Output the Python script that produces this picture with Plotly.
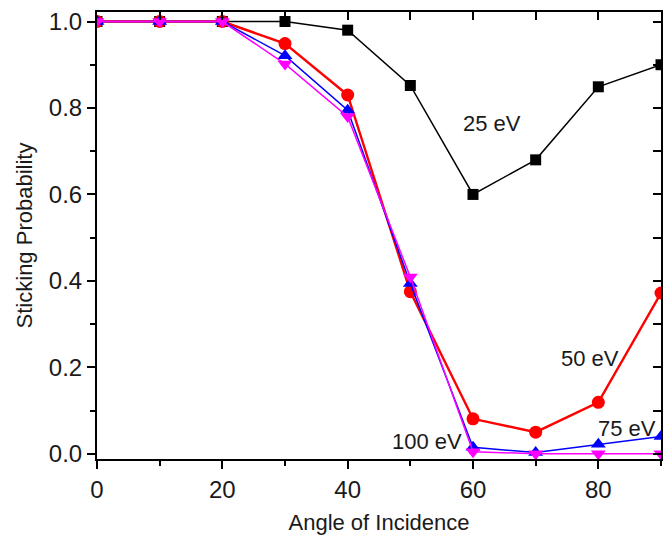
import plotly.graph_objects as go

angles = [0, 10, 20, 30, 40, 50, 60, 70, 80, 90]
p25 = [1.0, 1.0, 1.0, 1.0, 0.98, 0.852, 0.60, 0.68, 0.849, 0.90]
p50 = [1.0, 1.0, 1.0, 0.949, 0.83, 0.375, 0.081, 0.05, 0.119, 0.372]
p75 = [1.0, 1.0, 1.0, 0.921, 0.795, 0.394, 0.015, 0.003, 0.022, 0.04]
p100 = [1.0, 1.0, 1.0, 0.902, 0.78, 0.409, 0.005, 0.0, 0.0, 0.0]

labels = ["25 eV", "50 eV", "75 eV", "100 eV"]
label_x = [63.1, 78.7, 84.6, 52.7]
label_y = [0.765, 0.221, 0.059, 0.028]

FONT = "Liberation Sans, Arial, sans-serif"
TXT = "#1a1a1a"

fig = go.Figure()
series = [
    (p25, "#000000", "square", 11, 1.5),
    (p50, "#FF0000", "circle", 13, 2.4),
    (p75, "#0000FF", "triangle-up", 13, 1.5),
    (p100, "#FF00FF", "triangle-down", 13, 1.5),
]
for (vals, col, sym, sz, lw), name in zip(series, labels):
    fig.add_trace(go.Scatter(
        x=angles, y=vals, mode="lines+markers", name=name,
        line=dict(color=col, width=lw),
        marker=dict(symbol=sym, size=sz, color=col, line=dict(width=0)),
        showlegend=False,
    ))

# invisible copy on the overlay axes so the top/right tick axes are drawn
fig.add_trace(go.Scatter(x=angles, y=p25, xaxis="x2", yaxis="y2", mode="markers",
                         marker=dict(opacity=0), showlegend=False, hoverinfo="skip"))

for t, x, y in zip(labels, label_x, label_y):
    fig.add_annotation(x=x, y=y, text=t, showarrow=False,
                       xanchor="center", yanchor="middle",
                       font=dict(family=FONT, size=22, color=TXT))

fig.update_layout(
    width=665, height=542,
    margin=dict(l=97, r=4, t=12, b=83),
    plot_bgcolor="white", paper_bgcolor="white",
    font=dict(family=FONT, size=22, color=TXT),
    xaxis=dict(
        range=[0, 90], tick0=0, dtick=20, automargin=False,
        ticks="outside", ticklen=8, tickwidth=2, tickcolor="black",
        minor=dict(dtick=10, ticks="outside", ticklen=5, tickwidth=2, tickcolor="black"),
        showline=True, linewidth=2, linecolor="black", mirror=False,
        showgrid=False, zeroline=False,
        title=dict(text="Angle of Incidence", font=dict(size=22), standoff=13),
        tickfont=dict(size=24),
    ),
    yaxis=dict(
        range=[-0.012, 1.022], tick0=0, dtick=0.2, tickformat=".1f", automargin=False,
        ticks="outside", ticklen=8, tickwidth=2, tickcolor="black",
        minor=dict(dtick=0.1, ticks="outside", ticklen=5, tickwidth=2, tickcolor="black"),
        showline=True, linewidth=2, linecolor="black", mirror=False,
        showgrid=False, zeroline=False,
        title=dict(text="Sticking Probability", font=dict(size=22), standoff=10),
        tickfont=dict(size=24),
    ),
    xaxis2=dict(
        overlaying="x", side="top", range=[0, 90], automargin=False,
        tick0=0, dtick=10, ticks="inside", ticklen=8, tickwidth=2, tickcolor="black",
        showticklabels=False, showline=True, linewidth=2, linecolor="black",
        showgrid=False, zeroline=False,
    ),
    yaxis2=dict(
        overlaying="y", side="right", range=[-0.012, 1.022], automargin=False,
        tick0=0, dtick=0.1, ticks="inside", ticklen=8, tickwidth=2, tickcolor="black",
        showticklabels=False, showline=True, linewidth=2, linecolor="black",
        showgrid=False, zeroline=False,
    ),
)

fig.write_html(
    "out.html",
    config={"displayModeBar": False},
    post_script="document.body.style.margin='0';document.body.style.overflow='hidden';",
)
